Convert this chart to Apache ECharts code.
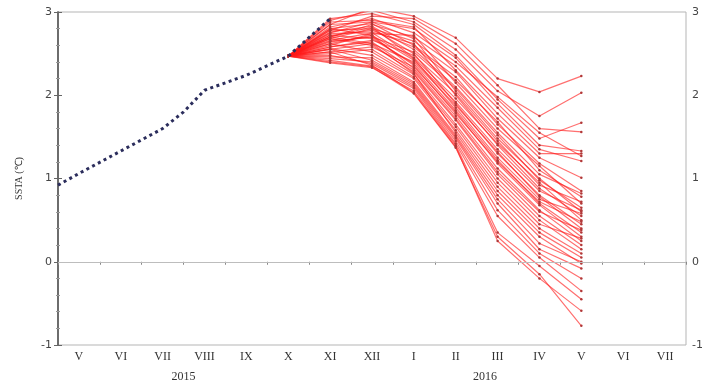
<!DOCTYPE html>
<html>
<head>
<meta charset="utf-8">
<script src="https://cdn.jsdelivr.net/npm/echarts@6/dist/echarts.min.js"></script>
<style>html,body{margin:0;padding:0;background:#fff}#c{width:719px;height:385px}</style>
</head>
<body>
<div id="c"></div>
<script>
// Month labels (May 2015 .. Jul 2016)
const months = ['V','VI','VII','VIII','IX','X','XI','XII','I','II','III','IV','V','VI','VII'];
const yearLabels = ['2015','2016'];
const yearPos = [3.0, 10.2];
// Observed SSTA (axis units: month index + 0.5)
const obsX = [0, 0.5, 1.5, 2.5, 3.0, 3.5, 4.0, 4.5, 5.5, 6.5];
const obsY = [0.92, 1.06, 1.33, 1.60, 1.80, 2.06, 2.15, 2.24, 2.47, 2.92];
// Forecast months X(2015) .. V(2016)
const fcstX = [5.5, 6.5, 7.5, 8.5, 9.5, 10.5, 11.5, 12.5];
// Ensemble members
const members = [
 [2.47,2.85,3.05,2.95,2.69,2.20,2.04,2.23],
 [2.47,2.90,3.02,2.88,2.55,2.05,1.75,2.03],
 [2.47,2.78,2.95,2.92,2.62,2.12,1.60,1.56],
 [2.47,2.92,2.98,2.85,2.48,1.95,1.48,1.67],
 [2.47,2.75,2.88,2.80,2.45,1.90,1.40,1.33],
 [2.47,2.82,2.92,2.75,2.40,1.98,1.55,1.27],
 [2.47,2.70,2.85,2.70,2.35,1.85,1.35,1.21],
 [2.47,2.88,2.90,2.82,2.30,1.78,1.30,1.30],
 [2.47,2.68,2.80,2.65,2.28,1.72,1.25,1.01],
 [2.47,2.80,2.86,2.60,2.22,1.65,1.18,0.85],
 [2.47,2.72,2.78,2.58,2.18,1.68,1.10,0.78],
 [2.47,2.60,2.74,2.72,2.15,1.60,1.15,0.70],
 [2.47,2.76,2.83,2.55,2.10,1.55,1.05,0.82],
 [2.47,2.65,2.70,2.52,2.08,1.52,0.98,0.65],
 [2.47,2.85,2.88,2.68,2.05,1.48,1.00,0.60],
 [2.47,2.58,2.66,2.48,2.02,1.45,0.92,0.72],
 [2.47,2.74,2.76,2.62,2.00,1.40,0.88,0.55],
 [2.47,2.70,2.82,2.45,1.96,1.42,0.95,0.50],
 [2.47,2.62,2.72,2.42,1.92,1.35,0.85,0.62],
 [2.47,2.78,2.80,2.50,1.90,1.30,0.80,0.45],
 [2.47,2.55,2.62,2.40,1.88,1.32,0.78,0.40],
 [2.47,2.66,2.75,2.44,1.85,1.25,0.75,0.58],
 [2.47,2.72,2.68,2.38,1.82,1.22,0.70,0.35],
 [2.47,2.52,2.58,2.34,1.80,1.18,0.68,0.30],
 [2.47,2.64,2.70,2.36,1.78,1.20,0.72,0.48],
 [2.47,2.80,2.72,2.32,1.75,1.12,0.62,0.25],
 [2.47,2.58,2.64,2.30,1.72,1.08,0.60,0.38],
 [2.47,2.68,2.60,2.28,1.70,1.05,0.55,0.20],
 [2.47,2.50,2.55,2.25,1.65,1.00,0.50,0.15],
 [2.47,2.62,2.52,2.22,1.62,0.95,0.45,0.28],
 [2.47,2.56,2.48,2.20,1.58,0.90,0.40,0.10],
 [2.47,2.70,2.62,2.26,1.55,0.85,0.35,0.05],
 [2.47,2.46,2.45,2.16,1.52,0.80,0.30,-0.02],
 [2.47,2.55,2.42,2.14,1.50,0.75,0.22,0.00],
 [2.47,2.44,2.40,2.12,1.48,0.70,0.15,-0.08],
 [2.47,2.48,2.38,2.10,1.45,0.62,0.10,-0.20],
 [2.47,2.42,2.35,2.08,1.42,0.55,0.05,-0.35],
 [2.47,2.39,2.33,2.05,1.40,0.35,-0.05,-0.45],
 [2.47,2.52,2.36,2.03,1.38,0.25,-0.20,-0.59],
 [2.47,2.40,2.34,2.02,1.37,0.30,-0.15,-0.77]
];

const chart = echarts.init(document.getElementById('c'));
const series = [];
members.forEach((m, i) => {
  series.push({
    type: 'line', xAxisIndex: 1, yAxisIndex: 0,
    data: m.map((v, k) => [fcstX[k], v]),
    symbol: 'circle', symbolSize: 2.5, showSymbol: true,
    itemStyle: { color: '#b03838' },
    lineStyle: { color: 'rgba(255,25,25,0.62)', width: 1.2 },
    silent: true, animation: false, z: 2
  });
});
series.push({
  type: 'line', xAxisIndex: 1, yAxisIndex: 0,
  data: obsX.map((x, k) => [x, obsY[k]]),
  showSymbol: false,
  lineStyle: { color: '#2b2d5c', width: 3, type: [3, 3.5], cap: 'butt' },
  silent: true, animation: false, z: 5,
  markLine: {
    silent: true, symbol: 'none', label: { show: false },
    lineStyle: { color: '#bdbdbd', width: 1, type: 'solid' },
    data: [{ yAxis: 0 }]
  }
});

chart.setOption({
  animation: false,
  grid: { left: 58, right: 33, top: 12, bottom: 40, show: true, borderColor: '#b5b5b5', borderWidth: 1 },
  xAxis: [
    {
      type: 'category', data: months, boundaryGap: true, position: 'bottom',
      axisLine: { lineStyle: { color: '#666', width: 1.2 } },
      axisTick: { show: true, length: 3, lineStyle: { color: '#888' } },
      axisLabel: { color: '#333', fontFamily: 'Liberation Serif', fontSize: 12, margin: 6 }
    },
    { type: 'value', min: 0, max: 15, show: false },
    {
      type: 'value', min: 0, max: 15, position: 'bottom', offset: 18,
      axisLine: { show: false }, axisTick: { show: false }, splitLine: { show: false },
      axisLabel: {
        customValues: yearPos, color: '#333', fontFamily: 'Liberation Serif', fontSize: 12,
        formatter: v => (v < 6 ? yearLabels[0] : yearLabels[1])
      }
    }
  ],
  yAxis: [
    {
      type: 'value', min: -1, max: 3, interval: 1, position: 'left',
      name: 'SSTA (℃)', nameLocation: 'middle', nameGap: 34, nameRotate: 90,
      nameTextStyle: { color: '#333', fontSize: 10, fontFamily: 'Liberation Serif' },
      axisLine: { show: true, lineStyle: { color: '#666', width: 1.5 } },
      axisTick: { show: true, length: 4, lineStyle: { color: '#666' } },
      minorTick: { show: true, splitNumber: 5, length: 2, lineStyle: { color: '#999' } },
      splitLine: { show: false },
      axisLabel: { color: '#444', fontSize: 11, fontFamily: 'DejaVu Sans', margin: 6 }
    },
    {
      type: 'value', min: -1, max: 3, interval: 1, position: 'right',
      axisLine: { show: true, lineStyle: { color: '#666', width: 1.5 } },
      axisTick: { show: true, length: 4, lineStyle: { color: '#666' } },
      minorTick: { show: true, splitNumber: 5, length: 2, lineStyle: { color: '#999' } },
      splitLine: { show: false },
      axisLabel: { color: '#444', fontSize: 11, fontFamily: 'DejaVu Sans', margin: 6 }
    }
  ],
  series: series
});
</script>
</body>
</html>
